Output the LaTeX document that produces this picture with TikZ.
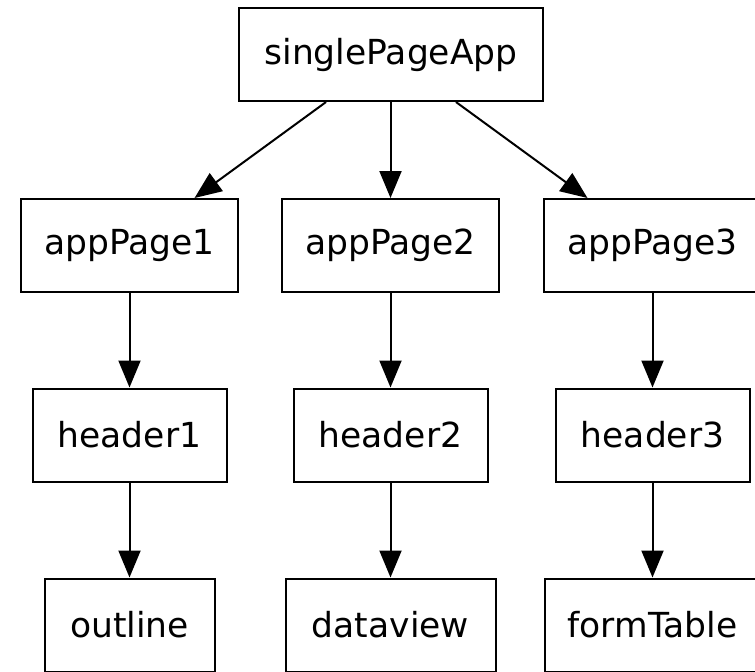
\documentclass[tikz,border=0pt]{standalone}
\usepackage{fontspec}
\setmainfont{DejaVu Sans}
\usetikzlibrary{arrows.meta}
\tikzset{
  box/.style={draw=black, line width=2pt, fill=white, rectangle, inner sep=0pt,
    minimum height=93pt, font=\fontsize{34.5}{40}\selectfont},
  edge/.style={draw=black, line width=2pt, -{Triangle[length=27pt,width=22pt]}},
}
\begin{document}
\begin{tikzpicture}[x=1pt,y=-1pt]
\useasboundingbox (0,0) rectangle (755,672);
\clip (0,0) rectangle (755,672);
\fill[white] (0,0) rectangle (755,672);
\node[box, minimum width=304pt] (spa) at (391,54.5) {singlePageApp};
\node[box, minimum width=217pt] (ap1) at (129.5,245.5) {appPage1};
\node[box, minimum width=217pt] (ap2) at (390.5,245.5) {appPage2};
\node[box, minimum width=217pt] (ap3) at (652.5,245.5) {appPage3};
\node[box, minimum width=194pt] (h1) at (129.5,435) {header1};
\node[box, minimum width=194pt] (h2) at (390.5,435) {header2};
\node[box, minimum width=194pt] (h3) at (652.5,435) {header3};
\node[box, minimum width=170pt] (o1) at (129.5,625) {outline};
\node[box, minimum width=210pt] (o2) at (390.5,625) {dataview};
\node[box, minimum width=216pt] (o3) at (652.5,625) {formTable};
\draw[edge] (spa) -- (ap1);
\draw[edge] (spa.south -| ap2) -- (ap2);
\draw[edge] (spa) -- (ap3);
\draw[edge] (ap1) -- (h1);
\draw[edge] (ap2) -- (h2);
\draw[edge] (ap3) -- (h3);
\draw[edge] (h1) -- (o1);
\draw[edge] (h2) -- (o2);
\draw[edge] (h3) -- (o3);
\end{tikzpicture}
\end{document}
